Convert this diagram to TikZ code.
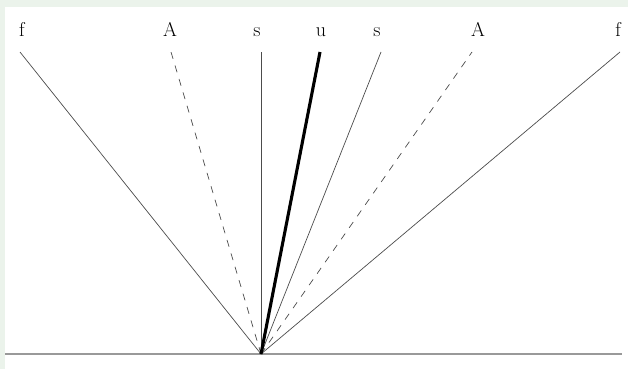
\documentclass[tikz,border=0pt]{standalone}
\begin{document}
\begin{tikzpicture}[x=1pt,y=-1pt,
  ray/.style={draw=black!70,line width=0.7pt},
  dray/.style={draw=black!70,line width=0.7pt,dash pattern=on 7pt off 7pt},
  thickray/.style={draw=black,line width=3.1pt},
  lbl/.style={font=\fontsize{20}{22}\selectfont,inner sep=0pt,anchor=base}]
\fill[green!40!black!8!white] (0,0) rectangle (628,369);
\fill[white] (5,7) rectangle (628,369);
\useasboundingbox (0,0) rectangle (628,369);
\coordinate (o) at (261,354);
\coordinate (hl) at (5,354);
\coordinate (hr) at (622,354);
\coordinate (e1) at (20,52);
\coordinate (e2) at (171,52);
\coordinate (e3) at (261,52);
\coordinate (e4) at (320,52);
\coordinate (e5) at (381,52);
\coordinate (e6) at (472,52);
\coordinate (e7) at (620,52);
\draw[draw=black!40,line width=1.3pt] (hl) -- (hr);
\draw[ray] (o) -- (e1);
\draw[dray] (o) -- (e2);
\draw[ray] (o) -- (e3);
\draw[ray] (o) -- (e5);
\draw[dray] (o) -- (e6);
\draw[ray] (o) -- (e7);
\draw[thickray] (o) -- (e4);
\node[lbl] (l1) at (22,37) {f};
\node[lbl] (l2) at (170,37) {A};
\node[lbl] (l3) at (257,37) {s};
\node[lbl] (l4) at (321,37) {u};
\node[lbl] (l5) at (377,37) {s};
\node[lbl] (l6) at (478,37) {A};
\node[lbl] (l7) at (618,37) {f};
\end{tikzpicture}
\end{document}
